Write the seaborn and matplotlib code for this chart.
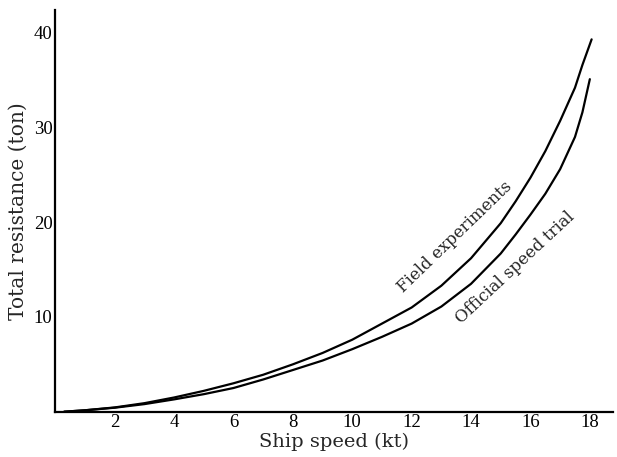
import numpy as np
import pandas as pd
import matplotlib
matplotlib.use("Agg")
import matplotlib.pyplot as plt
import seaborn as sns

# --- data ---
field_speed = [0.3, 1, 2, 3, 4, 5, 6, 7, 8, 9, 10, 11, 12, 13, 14, 15, 15.5, 16, 16.5, 17, 17.5, 17.75, 18.06]
field_res = [0.0, 0.15, 0.45, 0.9, 1.5, 2.2, 3.0, 3.9, 5.0, 6.2, 7.6, 9.3, 11.0, 13.3, 16.2, 19.9, 22.2, 24.7, 27.5, 30.7, 34.2, 36.6, 39.3]
trial_speed = [0.3, 1, 2, 3, 4, 5, 6, 7, 8, 9, 10, 11, 12, 13, 14, 15, 15.5, 16, 16.5, 17, 17.5, 17.75, 18.0]
trial_res = [0.0, 0.15, 0.42, 0.8, 1.3, 1.85, 2.5, 3.4, 4.4, 5.4, 6.6, 7.9, 9.3, 11.1, 13.5, 16.7, 18.7, 20.8, 23.0, 25.6, 29.0, 31.6, 35.1]
series_names = ["Field experiments", "Official speed trial"]
x_ticks = [2, 4, 6, 8, 10, 12, 14, 16, 18]
y_ticks = [10, 20, 30, 40]

df = pd.concat([
    pd.DataFrame({"speed": field_speed, "res": field_res, "series": series_names[0]}),
    pd.DataFrame({"speed": trial_speed, "res": trial_res, "series": series_names[1]}),
])

sns.set_style("white")
plt.rcParams["font.family"] = ["DejaVu Serif"]

fig = plt.figure(figsize=(6.17, 4.57), dpi=100)
ax = fig.add_axes([55.3 / 617, 1 - 411.7 / 457, (613 - 55.3) / 617, (411.7 - 10) / 457])

sns.lineplot(data=df, x="speed", y="res", hue="series", palette=["black", "black"],
             linewidth=1.6, legend=False, ax=ax, sort=True)

ax.set_xlim(0, 18.78)
ax.set_ylim(0, 42.4)
ax.set_xticks(x_ticks)
ax.set_yticks(y_ticks)
ax.tick_params(direction="in", length=7, width=1.3, colors="black", pad=2)
for lab in ax.get_xticklabels() + ax.get_yticklabels():
    lab.set_fontfamily("Liberation Serif")
    lab.set_fontsize(13.5)
for s in ["top", "right"]:
    ax.spines[s].set_visible(False)
for s in ["left", "bottom"]:
    ax.spines[s].set_linewidth(1.6)
    ax.spines[s].set_color("black")

ax.set_xlabel("Ship speed (kt)", fontsize=14, labelpad=1)
ax.set_ylabel("Total resistance (ton)", fontsize=14.5, labelpad=4)

ax.text(13.45, 18.4, series_names[0], rotation=44, fontsize=12,
        ha="center", va="center", rotation_mode="anchor")
ax.text(15.5, 15.2, series_names[1], rotation=43, fontsize=12,
        ha="center", va="center", rotation_mode="anchor")

fig.savefig("out.png", dpi=100)
